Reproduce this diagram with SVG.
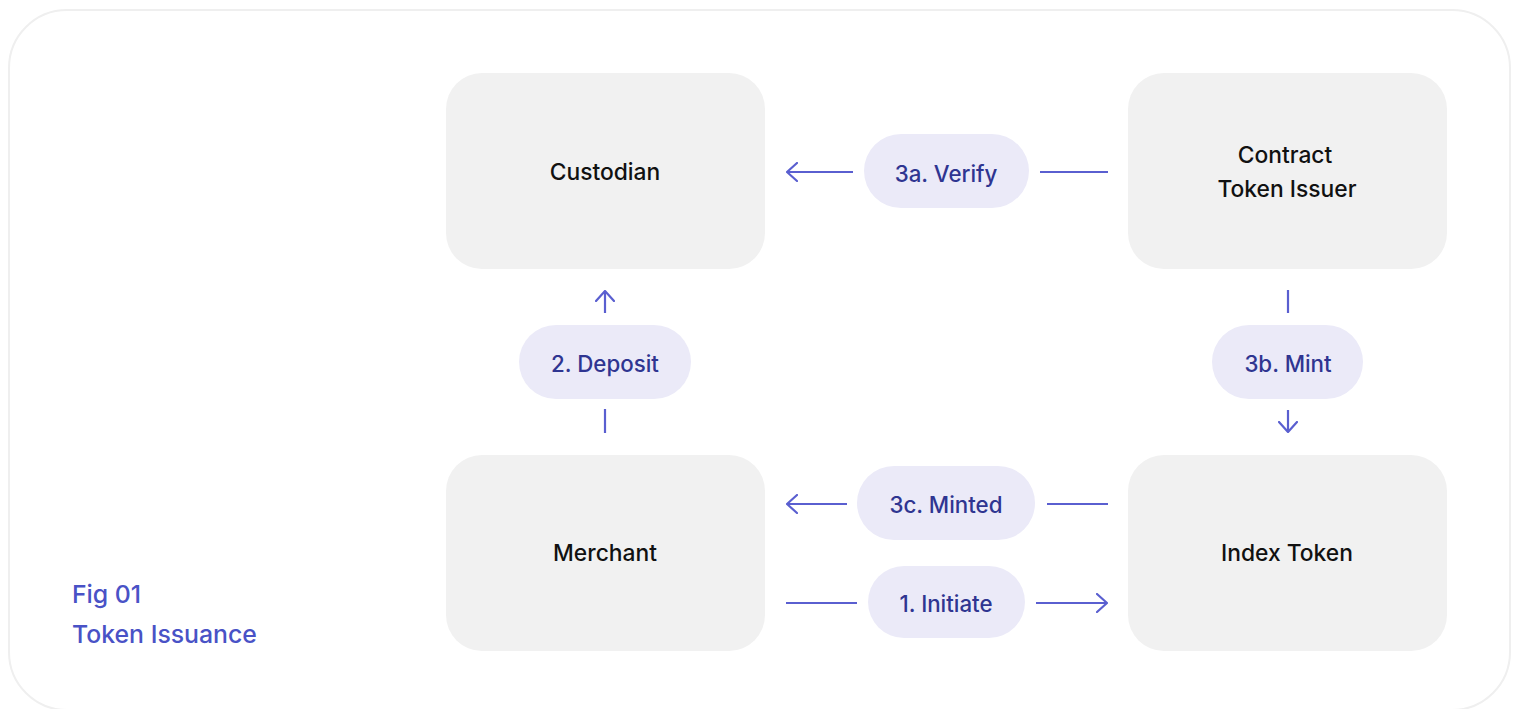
<svg xmlns="http://www.w3.org/2000/svg" width="1515" height="709" viewBox="0 0 1515 709">
<style>
.node{fill:#f1f1f1}
.ntext{font-family:Inter,"Liberation Sans",sans-serif;font-size:22.8px;font-weight:500;fill:#111;text-anchor:middle}
.pill{fill:#ebeaf8}
.ptext{font-family:Inter,"Liberation Sans",sans-serif;font-size:22.3px;font-weight:500;fill:#2f3591;text-anchor:middle}
.conn{stroke:#5a5fd0;stroke-width:2.2;fill:none}
.fig{font-family:Inter,"Liberation Sans",sans-serif;font-size:24.8px;font-weight:500;fill:#4952c6}
</style>
<defs>
<marker id="ah" viewBox="0 0 12 20" refX="11" refY="10" markerWidth="12" markerHeight="20" markerUnits="userSpaceOnUse" orient="auto">
<path d="M1 1 L11 10 L1 19" fill="none" stroke="#5a5fd0" stroke-width="2.2" stroke-linecap="round" stroke-linejoin="round"/>
</marker>
</defs>
<rect x="0" y="0" width="1515" height="709" fill="#fff"/>
<rect x="9" y="10" width="1501" height="700" rx="58" fill="#fff" stroke="#efefef" stroke-width="2"/>
<g id="connectors">
<line class="conn" x1="853" y1="172" x2="787" y2="172" marker-end="url(#ah)"/>
<line class="conn" x1="1040" y1="172" x2="1108" y2="172"/>
<line class="conn" x1="605" y1="313" x2="605" y2="291" marker-end="url(#ah)"/>
<line class="conn" x1="605" y1="409" x2="605" y2="433"/>
<line class="conn" x1="1288" y1="290" x2="1288" y2="313"/>
<line class="conn" x1="1288" y1="410" x2="1288" y2="432" marker-end="url(#ah)"/>
<line class="conn" x1="847" y1="504" x2="787" y2="504" marker-end="url(#ah)"/>
<line class="conn" x1="1047" y1="504" x2="1108" y2="504"/>
<line class="conn" x1="786" y1="603" x2="857" y2="603"/>
<line class="conn" x1="1036" y1="603" x2="1107" y2="603" marker-end="url(#ah)"/>
</g>
<g id="custodian"><rect class="node" x="446" y="73" width="319" height="196" rx="36"/><text class="ntext" x="605" y="180">Custodian</text></g>
<g id="contract"><rect class="node" x="1128" y="73" width="319" height="196" rx="36"/><text class="ntext" x="1285" y="163">Contract</text><text class="ntext" x="1287" y="197">Token Issuer</text></g>
<g id="merchant"><rect class="node" x="446" y="455" width="319" height="196" rx="36"/><text class="ntext" x="605" y="561">Merchant</text></g>
<g id="indextoken"><rect class="node" x="1128" y="455" width="319" height="196" rx="36"/><text class="ntext" x="1287" y="561">Index Token</text></g>
<g id="label-verify"><rect class="pill" x="864" y="134" width="165" height="74" rx="37"/><text class="ptext" x="946" y="182">3a. Verify</text></g>
<g id="label-deposit"><rect class="pill" x="519" y="325" width="172" height="74" rx="37"/><text class="ptext" x="605" y="372">2. Deposit</text></g>
<g id="label-mint"><rect class="pill" x="1212" y="325" width="151" height="74" rx="37"/><text class="ptext" x="1288" y="372">3b. Mint</text></g>
<g id="label-minted"><rect class="pill" x="857" y="466" width="178" height="74" rx="37"/><text class="ptext" x="946" y="513">3c. Minted</text></g>
<g id="label-initiate"><rect class="pill" x="868" y="566" width="157" height="72" rx="36"/><text class="ptext" x="946" y="612">1. Initiate</text></g>
<g id="caption"><text class="fig" x="72" y="603">Fig 01</text><text class="fig" x="72" y="643">Token Issuance</text></g>
</svg>
